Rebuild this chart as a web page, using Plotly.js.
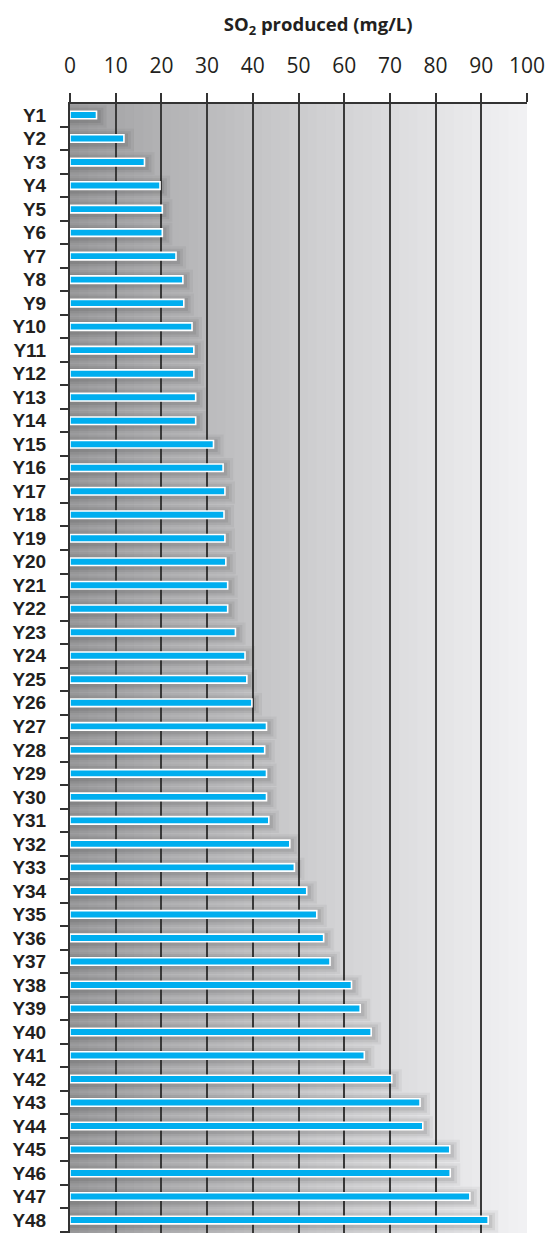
<!DOCTYPE html>
<html>
<head>
<meta charset="utf-8">
<script src="https://cdn.plot.ly/plotly-3.0.1.min.js"></script>
<style>
html,body{margin:0;padding:0;background:#fff;}
#chart{width:550px;height:1233px;}
</style>
</head>
<body>
<div id="chart"></div>
<script>
const categories = ["Y1","Y2","Y3","Y4","Y5","Y6","Y7","Y8","Y9","Y10","Y11","Y12","Y13","Y14","Y15","Y16","Y17","Y18","Y19","Y20","Y21","Y22","Y23","Y24","Y25","Y26","Y27","Y28","Y29","Y30","Y31","Y32","Y33","Y34","Y35","Y36","Y37","Y38","Y39","Y40","Y41","Y42","Y43","Y44","Y45","Y46","Y47","Y48"];
const so2 = [5.8,11.8,16.3,19.7,20.2,20.2,23.2,24.7,24.9,26.7,27.1,27.1,27.5,27.5,31.4,33.5,33.9,33.7,33.9,34.1,34.5,34.5,36.2,38.3,38.7,39.8,43.0,42.6,43.0,43.0,43.5,48.1,49.1,51.8,54.0,55.5,56.9,61.6,63.5,65.9,64.4,70.4,76.6,77.2,83.1,83.2,87.5,91.5];
const xTickVals = [0,10,20,30,40,50,60,70,80,90,100];
const xTickText = ["0","10","20","30","40","50","60","70","80","90","100"];

// background gradient (styling only): dark grey at left to light grey at right
const shapes = [];
const c0 = [157,157,159], c1 = [241,241,243];
const nBands = 50;
for (let i = 0; i < nBands; i++) {
  const t = i / (nBands - 1);
  const c = c0.map((a, k) => Math.round(a + (c1[k] - a) * Math.pow(t, 0.85)));
  shapes.push({type:'rect', layer:'below', xref:'x', yref:'paper',
    x0: 100 * i / nBands, x1: Math.min(100, 100 * (i + 1) / nBands + 1.5), y0: 0, y1: 1,
    line:{width:0}, fillcolor:`rgb(${c[0]},${c[1]},${c[2]})`});
}

function shadow(ext, w, alpha) {
  return {
    type:'bar', orientation:'h', y: categories, x: so2.map(v => v + ext), base: 0,
    width: w, offset: -w / 2 + 0.06,
    marker:{color:`rgba(30,30,30,${alpha})`, line:{width:0}},
    hoverinfo:'skip', showlegend:false
  };
}
const bars = {
  type:'bar', orientation:'h', y: categories, x: so2,
  width: 0.32,
  marker:{color:'#00aeef', line:{color:'#ffffff', width:1.6}},
  showlegend:false
};

const layout = {
  width:550, height:1233,
  margin:{l:70, r:23, t:104, b:0, pad:0},
  paper_bgcolor:'#ffffff',
  plot_bgcolor:'rgba(0,0,0,0)',
  barmode:'overlay',
  font:{family:'"Open Sans", "Liberation Sans", sans-serif', color:'#231f20'},
  title:{
    text:'<b>SO<sub>2</sub> produced (mg/L)</b>',
    font:{size:18.5, color:'#231f20'},
    x:0.543, xref:'paper', xanchor:'center',
    y:1 - 25/1233, yref:'container', yanchor:'middle'
  },
  xaxis:{
    side:'top', range:[0,100], tickmode:'array', tickvals:xTickVals, ticktext:xTickText,
    ticks:'outside', ticklen:9, tickwidth:2, tickcolor:'#333',
    ticklabelstandoff:12,
    tickfont:{size:21, color:'#231f20'},
    showgrid:true, gridcolor:'#3a3a3a', gridwidth:2,
    showline:true, linecolor:'#333', linewidth:2,
    zeroline:false, fixedrange:true
  },
  yaxis:{
    type:'category', categoryorder:'array', categoryarray:categories,
    tickmode:'array', tickvals:categories, ticktext:categories,
    range:[47.55,-0.47],
    ticks:'outside', tickson:'boundaries', ticklen:8, tickwidth:2, tickcolor:'#333',
    ticklabelstandoff:18,
    tickfont:{family:'"Liberation Sans", Arial, sans-serif', size:19, color:'#231f20', weight:'bold'},
    showgrid:false, showline:true, linecolor:'#333', linewidth:2,
    zeroline:false, fixedrange:true
  },
  shapes: shapes
};

Plotly.newPlot('chart', [shadow(2.2, 0.95, 0.05), shadow(1.5, 0.75, 0.07), shadow(0.9, 0.55, 0.09), bars], layout, {displayModeBar:false, staticPlot:true});
</script>
</body>
</html>
